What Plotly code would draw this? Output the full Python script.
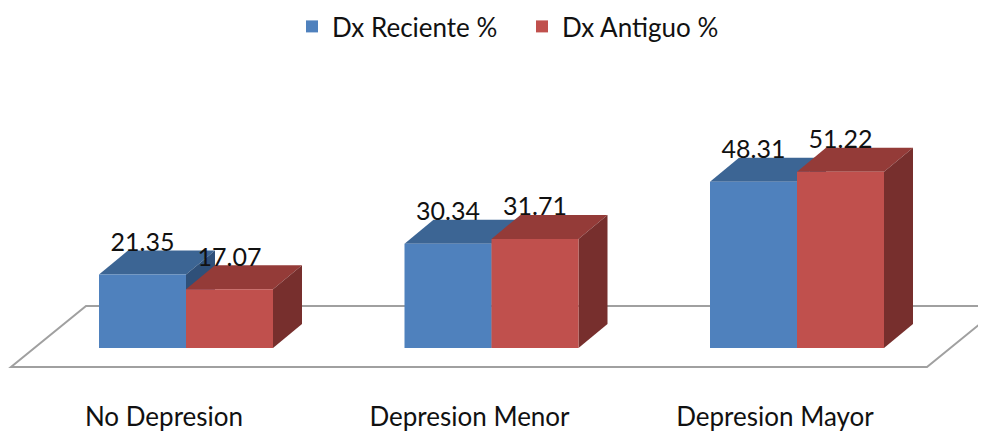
import plotly.graph_objects as go

# ---- data ----
categories = ["No Depresion", "Depresion Menor", "Depresion Mayor"]
series_names = ["Dx Reciente %", "Dx Antiguo %"]
reciente = [21.35, 30.34, 48.31]
antiguo = [17.07, 31.71, 51.22]
label_reciente = ["21.35", "30.34", "48.31"]
label_antiguo = ["17.07", "31.71", "51.22"]

# ---- layout / style constants ----
PAGE_OFF = 8                 # browser body margin
W, H = 986 - PAGE_OFF, 432 - PAGE_OFF
MB = 33                      # bottom margin (category labels)
PX_PER_CAT = 305.5           # pixels per category unit
X0_PX = 186 - PAGE_OFF       # pixel x of category 0 centre
PX_PER_VAL = 3.44            # pixels per value unit
Y0_PX = 348 - PAGE_OFF       # pixel y of value 0
BAR_W = 87 / PX_PER_CAT
DEPTH_X = 29 / PX_PER_CAT
DEPTH_Y = 24 / PX_PER_VAL
LABEL_GAP = 6 / PX_PER_VAL
FLOOR_FRONT = -19 / PX_PER_VAL
FLOOR_BACK = 42 / PX_PER_VAL
FLOOR_LEFT = (11 - 186) / PX_PER_CAT
FLOOR_RIGHT = (927 - 186) / PX_PER_CAT
FLOOR_DX = 75 / PX_PER_CAT
TICK_SHIFT = -22 / PX_PER_CAT

plot_h = H - MB
x_range = [-X0_PX / PX_PER_CAT, (W - X0_PX) / PX_PER_CAT]
y_range = [(Y0_PX - plot_h) / PX_PER_VAL, Y0_PX / PX_PER_VAL]

BLUE, BLUE_TOP, BLUE_SIDE = "#4F81BD", "#3C6594", "#2F5079"
RED, RED_TOP, RED_SIDE = "#C0504D", "#943B38", "#772F2D"
FONT = "Lato"
TXT = "#111111"

fig = go.Figure()

series = [
    (series_names[0], reciente, label_reciente, -BAR_W, BLUE, BLUE_TOP, BLUE_SIDE),
    (series_names[1], antiguo, label_antiguo, 0.0, RED, RED_TOP, RED_SIDE),
]

shapes = []
# floor
fl = FLOOR_LEFT
fr = FLOOR_RIGHT
shapes.append(dict(
    type="path", xref="x", yref="y", layer="below",
    path=(f"M{fl},{FLOOR_FRONT} L{fr},{FLOOR_FRONT} "
          f"L{fr + FLOOR_DX},{FLOOR_BACK} L{fl + FLOOR_DX},{FLOOR_BACK} Z"),
    line=dict(color="#A0A0A0", width=2), fillcolor="white"))

for i in range(len(categories)):
    for name, vals, labs, off, c, ctop, cside in series:
        v = vals[i]
        x1 = i + off
        x2 = x1 + BAR_W
        # top face
        shapes.append(dict(
            type="path", xref="x", yref="y", layer="below",
            path=(f"M{x1},{v} L{x2},{v} L{x2 + DEPTH_X},{v + DEPTH_Y} "
                  f"L{x1 + DEPTH_X},{v + DEPTH_Y} Z"),
            line=dict(width=0), fillcolor=ctop))
        # side face
        shapes.append(dict(
            type="path", xref="x", yref="y", layer="below",
            path=(f"M{x2},{0} L{x2},{v} L{x2 + DEPTH_X},{v + DEPTH_Y} "
                  f"L{x2 + DEPTH_X},{DEPTH_Y} Z"),
            line=dict(width=0), fillcolor=cside))

xs = list(range(len(categories)))
for name, vals, labs, off, c, ctop, cside in series:
    fig.add_trace(go.Bar(
        x=xs, y=vals, name=name, offset=off, width=BAR_W,
        marker=dict(color=c, line=dict(width=0)), showlegend=True))

for name, vals, labs, off, c, ctop, cside in series:
    fig.add_trace(go.Scatter(
        x=[i + off + BAR_W / 2 for i in xs],
        y=[v + DEPTH_Y + LABEL_GAP for v in vals],
        text=labs, mode="text", textposition="middle center",
        textfont=dict(family=FONT, size=25, color=TXT),
        showlegend=False, hoverinfo="skip"))

fig.update_layout(
    width=W, height=H,
    margin=dict(l=0, r=0, t=0, b=MB, autoexpand=False),
    paper_bgcolor="white", plot_bgcolor="white",
    barmode="overlay",
    shapes=shapes,
    font=dict(family=FONT, color=TXT),
    legend=dict(orientation="h", x=284 / W, xanchor="left",
                y=1 + 5 / plot_h, yanchor="top",
                font=dict(family=FONT, size=26, color=TXT),
                entrywidth=185, entrywidthmode="pixels", itemwidth=30,
                traceorder="normal"),
    xaxis=dict(range=x_range, tickvals=[i + TICK_SHIFT for i in xs],
               ticktext=categories, showgrid=False, zeroline=False,
               showline=False, ticks="", automargin=False,
               tickfont=dict(family=FONT, size=26, color=TXT),
               fixedrange=True),
    yaxis=dict(range=y_range, showgrid=False, zeroline=False, showline=False,
               showticklabels=False, ticks="", automargin=False, fixedrange=True),
)

fig.write_html("out.html")
